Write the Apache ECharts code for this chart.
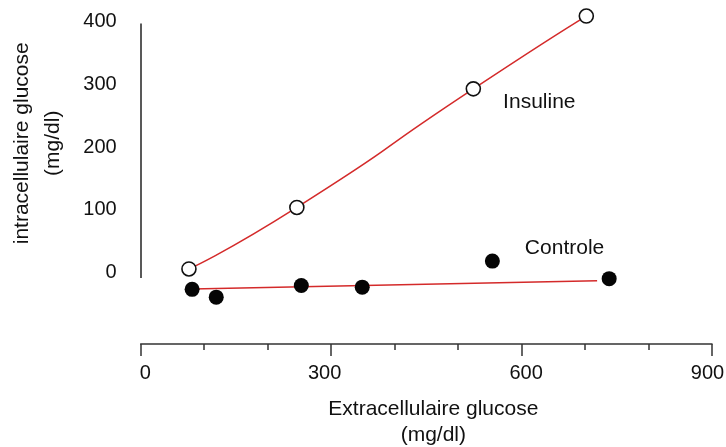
<!DOCTYPE html>
<html>
<head>
<meta charset="utf-8">
<script src="https://cdn.jsdelivr.net/npm/echarts@6/dist/echarts.min.js"></script>
<style>
html,body{margin:0;padding:0;background:#fff;}
#chart{width:726px;height:447px;}
</style>
</head>
<body>
<div id="chart"></div>
<script>
// Data
const insulineX = [76, 246, 524, 702];
const insulineY = [6, 104, 293, 409];
const controleX = [81, 119, 253, 349, 554, 738];
const controleY = [-26.5, -39, -20.5, -23, 18.5, -9.5];
const controleFitX = [81, 719];
const controleFitY = [-26, -13];
const xTicks = [0, 300, 600, 900];
const yTicks = [0, 100, 200, 300, 400];
const seriesNames = ['Insuline', 'Controle'];

const FONT = '"Liberation Sans", Arial, Helvetica, sans-serif';
const RED = '#d42a2a';

const zip = (xs, ys) => xs.map((x, i) => [x, ys[i]]);

const insData = zip(insulineX, insulineY).map((p, i) => i === 2 ? {
  value: p,
  label: { show: true, formatter: seriesNames[0], position: 'right', offset: [17, 13],
           fontSize: 21, fontFamily: FONT, color: '#111' }
} : p);
const ctrlData = zip(controleX, controleY).map((p, i) => i === 4 ? {
  value: p,
  label: { show: true, formatter: seriesNames[1], position: 'right', offset: [20, -13],
           fontSize: 21, fontFamily: FONT, color: '#111' }
} : p);

const xLabelStyle = (v) => {
  if (!xTicks.includes(v)) return '';
  const k = ['a', 'b', 'c', 'd'][xTicks.indexOf(v)];
  return '{' + k + '|' + v + '}';
};
const lbl = (pad) => ({ fontSize: 20, fontFamily: FONT, color: '#111', padding: pad });

const chart = echarts.init(document.getElementById('chart'), null, { renderer: 'canvas' });
chart.setOption({
  animation: false,
  backgroundColor: '#fff',
  grid: { left: 140.7, right: 14, top: 9.15, bottom: 111.55, containLabel: false, outerBoundsMode: 'none' },
  xAxis: {
    type: 'value', min: xTicks[0], max: xTicks[xTicks.length - 1], interval: 300,
    position: 'bottom', offset: 8.5,
    name: 'Extracellulaire glucose\n(mg/dl)', nameLocation: 'middle', nameGap: 52,
    nameTextStyle: { fontSize: 21, fontFamily: FONT, color: '#111', lineHeight: 26, padding: [0, 0, 0, 14] },
    axisLine: { show: true, onZero: false, lineStyle: { color: '#333', width: 1.5 } },
    axisTick: { show: true, length: 12, lineStyle: { color: '#333', width: 1.5 } },
    minorTick: { show: true, splitNumber: 3, length: 6, lineStyle: { color: '#333', width: 1.5 } },
    axisLabel: { fontSize: 20, fontFamily: FONT, color: '#111', margin: 20, hideOverlap: false,
      formatter: xLabelStyle,
      rich: { a: lbl([0, 0, 0, 9]), b: lbl([0, 13, 0, 0]), c: lbl([0, 0, 0, 9]), d: lbl([0, 9, 0, 0]) } },
    splitLine: { show: false }
  },
  yAxis: {
    type: 'value', min: -100, max: 420, interval: 100,
    name: 'intracellulaire glucose\n(mg/dl)', nameLocation: 'middle', nameGap: 72, nameRotate: 90,
    nameTextStyle: { fontSize: 21, fontFamily: FONT, color: '#111', lineHeight: 31, padding: [0, 0, 0, 58] },
    axisLine: { show: false },
    axisTick: { show: false },
    axisLabel: { fontSize: 20, fontFamily: FONT, color: '#111', margin: 24,
      formatter: v => yTicks.includes(v) ? String(v) : '' },
    splitLine: { show: false }
  },
  series: [
    {
      name: 'yaxisline', type: 'line', data: [], silent: true,
      markLine: {
        silent: true, symbol: 'none', animation: false,
        label: { show: false },
        lineStyle: { color: '#222', width: 1.5, type: 'solid' },
        data: [[{ coord: [0, -8.5] }, { coord: [0, 397] }]]
      }
    },
    {
      name: 'Controle fit', type: 'line', data: zip(controleFitX, controleFitY),
      showSymbol: false, symbol: 'none', lineStyle: { color: RED, width: 1.5 }, z: 2, silent: true
    },
    {
      name: 'Insuline', type: 'line', data: insData, smooth: 0.7,
      symbol: 'circle', symbolSize: 14, showSymbol: true,
      lineStyle: { color: RED, width: 1.5 },
      itemStyle: { color: '#fff', borderColor: '#111', borderWidth: 1.6, opacity: 1 }, z: 3, clip: false
    },
    {
      name: 'Controle', type: 'scatter', data: ctrlData,
      symbol: 'circle', symbolSize: 15,
      itemStyle: { color: '#050505', opacity: 1 }, z: 4, clip: false
    }
  ]
});
</script>
</body>
</html>
